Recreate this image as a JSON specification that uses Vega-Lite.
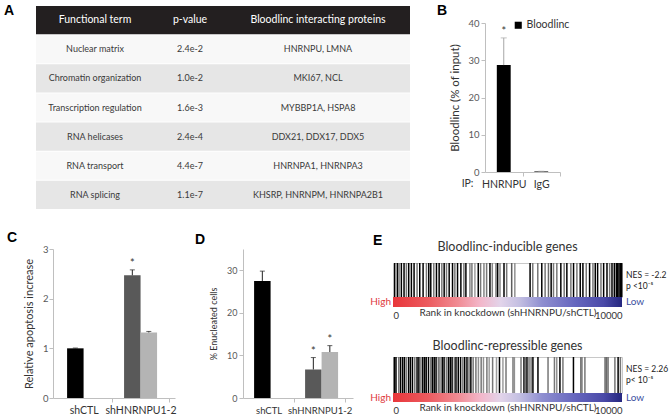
{
  "$schema": "https://vega.github.io/schema/vega-lite/v6.json",
  "background": "white",
  "padding": {"left": 4, "top": 4, "right": 30, "bottom": 0},
  "config": {
    "font": "Lato",
    "view": {"stroke": null},
    "axis": {"grid": false, "labelFont": "Lato", "titleFont": "Lato", "titleFontWeight": "normal", "labelColor": "#595959", "titleColor": "#333333", "domainColor": "#bfbfbf", "tickColor": "#bfbfbf", "tickSize": 4, "labelOverlap": false},
    "title": {"font": "Liberation Sans", "fontSize": 14, "fontWeight": "bold", "color": "#000000", "anchor": "start", "frame": "group"},
    "legend": {"labelFont": "Lato"}
  },
  "datasets": {
    "table": [
      {"row": 0, "term": "Functional term", "p": "p-value", "prot": "Bloodlinc interacting proteins"},
      {"row": 1, "term": "Nuclear matrix", "p": "2.4e-2", "prot": "HNRNPU, LMNA"},
      {"row": 2, "term": "Chromatin organization", "p": "1.0e-2", "prot": "MKI67, NCL"},
      {"row": 3, "term": "Transcription regulation", "p": "1.6e-3", "prot": "MYBBP1A, HSPA8"},
      {"row": 4, "term": "RNA helicases", "p": "2.4e-4", "prot": "DDX21, DDX17, DDX5"},
      {"row": 5, "term": "RNA transport", "p": "4.4e-7", "prot": "HNRNPA1, HNRNPA3"},
      {"row": 6, "term": "RNA splicing", "p": "1.1e-7", "prot": "KHSRP, HNRNPM, HNRNPA2B1"}
    ],
    "inducible": [
      {"rank": 73, "d": 1}, {"rank": 190, "d": 1}, {"rank": 263, "d": 0.5}, {"rank": 365, "d": 1}, {"rank": 482, "d": 1}, {"rank": 584, "d": 0.5}, {"rank": 686, "d": 1}, {"rank": 803, "d": 1}, {"rank": 920, "d": 1}, {"rank": 1051, "d": 0.5}, {"rank": 1168, "d": 1}, {"rank": 1314, "d": 1}, {"rank": 1460, "d": 0.5}, {"rank": 1562, "d": 1}, {"rank": 1650, "d": 1}, {"rank": 1781, "d": 0.5}, {"rank": 1898, "d": 1}, {"rank": 2015, "d": 1}, {"rank": 2132, "d": 0.5}, {"rank": 2234, "d": 1}, {"rank": 2336, "d": 0.5}, {"rank": 2453, "d": 1}, {"rank": 2599, "d": 1}, {"rank": 2701, "d": 0.5}, {"rank": 2818, "d": 1}, {"rank": 2964, "d": 1}, {"rank": 3095, "d": 0.5}, {"rank": 3183, "d": 1}, {"rank": 3358, "d": 0.45}, {"rank": 3446, "d": 0.5}, {"rank": 3577, "d": 0.35}, {"rank": 3723, "d": 1}, {"rank": 3825, "d": 0.5}, {"rank": 3971, "d": 0.45}, {"rank": 4088, "d": 0.5}, {"rank": 4234, "d": 1}, {"rank": 4336, "d": 0.45}, {"rank": 4497, "d": 0.5}, {"rank": 4570, "d": 1}, {"rank": 4672, "d": 0.45}, {"rank": 4847, "d": 1}, {"rank": 4964, "d": 0.5}, {"rank": 5183, "d": 0.6}, {"rank": 5320, "d": 0.4}, {"rank": 5986, "d": 1}, {"rank": 6103, "d": 0.5}, {"rank": 6322, "d": 0.5}, {"rank": 6497, "d": 1}, {"rank": 6643, "d": 0.5}, {"rank": 6789, "d": 0.55}, {"rank": 6906, "d": 1}, {"rank": 7008, "d": 0.5}, {"rank": 7154, "d": 0.5}, {"rank": 7329, "d": 1}, {"rank": 7475, "d": 0.5}, {"rank": 7592, "d": 1}, {"rank": 7767, "d": 0.5}, {"rank": 7884, "d": 1}, {"rank": 8030, "d": 0.5}, {"rank": 8176, "d": 1}, {"rank": 8293, "d": 1}, {"rank": 8439, "d": 0.5}, {"rank": 8585, "d": 1}, {"rank": 8731, "d": 0.5}, {"rank": 8833, "d": 1}, {"rank": 8935, "d": 1}, {"rank": 9081, "d": 0.5}, {"rank": 9198, "d": 1}, {"rank": 9344, "d": 1}, {"rank": 9461, "d": 0.5}, {"rank": 9563, "d": 1}, {"rank": 9665, "d": 1}, {"rank": 9753, "d": 1}, {"rank": 9811, "d": 1}, {"rank": 9870, "d": 1}, {"rank": 9928, "d": 1}, {"rank": 9986, "d": 1}
    ],
    "repressible": [
      {"rank": 60, "d": 1}, {"rank": 130, "d": 1}, {"rank": 250, "d": 0.5}, {"rank": 330, "d": 1}, {"rank": 420, "d": 1}, {"rank": 500, "d": 1}, {"rank": 580, "d": 0.5}, {"rank": 680, "d": 1}, {"rank": 760, "d": 1}, {"rank": 850, "d": 1}, {"rank": 950, "d": 0.5}, {"rank": 1050, "d": 1}, {"rank": 1130, "d": 1}, {"rank": 1220, "d": 0.5}, {"rank": 1300, "d": 1}, {"rank": 1380, "d": 1}, {"rank": 1450, "d": 1}, {"rank": 1550, "d": 1}, {"rank": 1650, "d": 0.5}, {"rank": 1720, "d": 1}, {"rank": 1800, "d": 1}, {"rank": 1880, "d": 1}, {"rank": 1980, "d": 0.5}, {"rank": 2050, "d": 0.5}, {"rank": 2150, "d": 1}, {"rank": 2230, "d": 1}, {"rank": 2330, "d": 0.5}, {"rank": 2420, "d": 1}, {"rank": 2500, "d": 1}, {"rank": 2580, "d": 1}, {"rank": 2680, "d": 0.5}, {"rank": 2750, "d": 1}, {"rank": 2850, "d": 1}, {"rank": 2950, "d": 1}, {"rank": 3050, "d": 0.5}, {"rank": 3130, "d": 1}, {"rank": 3230, "d": 1}, {"rank": 3320, "d": 0.5}, {"rank": 3400, "d": 1}, {"rank": 3500, "d": 0.5}, {"rank": 3620, "d": 0.5}, {"rank": 3730, "d": 0.4}, {"rank": 3850, "d": 0.5}, {"rank": 3950, "d": 0.4}, {"rank": 4100, "d": 0.5}, {"rank": 4200, "d": 0.35}, {"rank": 4350, "d": 0.5}, {"rank": 4520, "d": 0.35}, {"rank": 4650, "d": 1}, {"rank": 4800, "d": 0.35}, {"rank": 4935, "d": 0.5}, {"rank": 5240, "d": 0.5}, {"rank": 5300, "d": 0.4}, {"rank": 5590, "d": 0.5}, {"rank": 5720, "d": 1}, {"rank": 5780, "d": 0.5}, {"rank": 5850, "d": 1}, {"rank": 5940, "d": 0.5}, {"rank": 6030, "d": 0.5}, {"rank": 6110, "d": 1}, {"rank": 6330, "d": 1}, {"rank": 6770, "d": 0.5}, {"rank": 7050, "d": 0.5}, {"rank": 7150, "d": 0.4}, {"rank": 7290, "d": 1}, {"rank": 7420, "d": 0.5}, {"rank": 7880, "d": 1}, {"rank": 8200, "d": 0.5}, {"rank": 8250, "d": 0.5}, {"rank": 8380, "d": 0.5}, {"rank": 9260, "d": 0.55}, {"rank": 9320, "d": 0.55}, {"rank": 9390, "d": 0.55}, {"rank": 9690, "d": 0.5}, {"rank": 9830, "d": 1}, {"rank": 9930, "d": 0.5}
    ],
    "ends": [{"rank": 0, "end": "High"}, {"rank": 10000, "end": "Low"}],
    "none": []
  },
  "spacing": 21,
  "resolve": {"scale": {"color": "independent"}, "legend": {"color": "independent"}},
  "vconcat": [
    {
      "bounds": "flush",
      "spacing": 0,
      "resolve": {"scale": {"color": "independent"}, "legend": {"color": "independent"}},
      "hconcat": [
        {
          "width": 118,
          "height": 203,
          "title": {"text": "A", "dx": -32, "dy": 12, "offset": 0},
          "data": {"name": "table"},
          "layer": [
            {
              "mark": {"type": "rect"},
              "encoding": {
                "y": {"field": "row", "type": "ordinal", "axis": null, "scale": {"paddingInner": 0.035, "paddingOuter": 0}},
                "color": {"condition": [{"test": "datum.row == 0", "value": "#231f20"}, {"test": "datum.row % 2 == 0", "value": "#e6e6e6"}], "value": "#f8f8f8"}
              }
            },
            {
              "mark": {"type": "text", "font": "Lato"},
              "encoding": {
                "y": {"field": "row", "type": "ordinal", "axis": null},
                "text": {"field": "term"},
                "color": {"condition": {"test": "datum.row == 0", "value": "#ffffff"}, "value": "#3a3a3a"},
                "size": {"condition": {"test": "datum.row == 0", "value": 10.5}, "value": 9}
              }
            }
          ]
        },
        {
          "width": 72,
          "height": 203,
          "data": {"name": "table"},
          "layer": [
            {
              "mark": {"type": "rect"},
              "encoding": {
                "y": {"field": "row", "type": "ordinal", "axis": null, "scale": {"paddingInner": 0.035, "paddingOuter": 0}},
                "color": {"condition": [{"test": "datum.row == 0", "value": "#231f20"}, {"test": "datum.row % 2 == 0", "value": "#e6e6e6"}], "value": "#f8f8f8"}
              }
            },
            {
              "mark": {"type": "text", "font": "Lato"},
              "encoding": {
                "y": {"field": "row", "type": "ordinal", "axis": null},
                "text": {"field": "p"},
                "color": {"condition": {"test": "datum.row == 0", "value": "#ffffff"}, "value": "#3a3a3a"},
                "size": {"condition": {"test": "datum.row == 0", "value": 10.5}, "value": 9}
              }
            }
          ]
        },
        {
          "width": 184,
          "height": 203,
          "data": {"name": "table"},
          "layer": [
            {
              "mark": {"type": "rect"},
              "encoding": {
                "y": {"field": "row", "type": "ordinal", "axis": null, "scale": {"paddingInner": 0.035, "paddingOuter": 0}},
                "color": {"condition": [{"test": "datum.row == 0", "value": "#231f20"}, {"test": "datum.row % 2 == 0", "value": "#e6e6e6"}], "value": "#f8f8f8"}
              }
            },
            {
              "mark": {"type": "text", "font": "Lato"},
              "encoding": {
                "y": {"field": "row", "type": "ordinal", "axis": null},
                "text": {"field": "prot"},
                "color": {"condition": {"test": "datum.row == 0", "value": "#ffffff"}, "value": "#3a3a3a"},
                "size": {"condition": {"test": "datum.row == 0", "value": 10.5}, "value": 9}
              }
            }
          ]
        },
        {"width": 75, "height": 1, "title": {"text": "B", "anchor": "end", "align": "left", "dx": -48, "dy": 12, "offset": 0}, "data": {"name": "none"}, "mark": "point"},
        {
          "width": 75,
          "height": 166,
          "data": {"values": [
            {"ip": "HNRNPU", "val": 28.7, "hi": 36, "sig": "*", "series": "Bloodlinc"},
            {"ip": "IgG", "val": 0.15, "hi": 0.2, "sig": "", "series": "Bloodlinc"}
          ]},
          "encoding": {
            "x": {"field": "ip", "type": "nominal", "scale": {"paddingInner": 0, "paddingOuter": 0},
                  "axis": {"title": "IP:", "labelAngle": 0, "labelColor": "#333333", "labelFontSize": 10.5, "labelPadding": 3, "tickOffset": 18.75, "labelOffset": -18.75, "titleX": -12, "titleY": 11, "titleAlign": "right", "titleBaseline": "middle", "titleFontSize": 10.5, "titleColor": "#333333"}}
          },
          "layer": [
            {
              "mark": {"type": "bar", "width": {"band": 0.37}},
              "encoding": {
                "y": {"field": "val", "type": "quantitative", "scale": {"domain": [0, 40], "nice": false, "range": [166, 17]},
                      "axis": {"title": "Bloodlinc (% of input)", "values": [0, 5, 10, 15, 20, 25, 30, 35, 40], "labelFontSize": 9.5, "labelPadding": 2, "titleFontSize": 11.5, "titlePadding": 7}},
                "color": {"field": "series", "type": "nominal", "scale": {"range": ["#000000"]},
                          "legend": {"orient": "none", "legendX": 28, "legendY": 14, "title": null, "symbolType": "square", "symbolSize": 50, "symbolStrokeWidth": 0, "labelFontSize": 10.5, "labelColor": "#333333", "padding": 0, "labelOffset": 3}}
              }
            },
            {
              "mark": {"type": "rule", "color": "#a6a6a6"},
              "encoding": {"y": {"field": "val", "type": "quantitative"}, "y2": {"field": "hi"}}
            },
            {
              "mark": {"type": "tick", "color": "#a6a6a6", "size": 6, "thickness": 1, "orient": "horizontal"},
              "encoding": {"y": {"field": "hi", "type": "quantitative"}}
            },
            {
              "mark": {"type": "text", "dy": -6, "fontSize": 11, "color": "#333333"},
              "encoding": {"y": {"field": "hi", "type": "quantitative"}, "text": {"field": "sig"}}
            }
          ]
        }
      ]
    },
    {
      "bounds": "flush",
      "spacing": 0,
      "resolve": {"scale": {"color": "independent"}, "legend": {"color": "independent"}},
      "hconcat": [
        {"width": 17, "height": 1, "data": {"name": "none"}, "mark": "point"},
        {
          "width": 122,
          "height": 149,
          "title": {"text": "C", "dx": -46, "offset": -1},
          "data": {"values": [
            {"grp": "shCTL", "series": "1", "cond": "shCTL", "val": 1.0, "hi": 1.006, "sig": ""},
            {"grp": "shHNRNPU1-2", "series": "1", "cond": "shHNRNPU1", "val": 2.47, "hi": 2.58, "sig": "*"},
            {"grp": "shHNRNPU1-2", "series": "2", "cond": "shHNRNPU2", "val": 1.32, "hi": 1.34, "sig": ""}
          ]},
          "encoding": {
            "x": {"field": "grp", "type": "nominal", "scale": {"domain": ["shCTL", "shHNRNPU1-2"], "paddingInner": 0.421, "paddingOuter": 0.281, "align": 0.44},
                  "axis": {"title": null, "labelAngle": 0, "labelColor": "#333333", "labelFontSize": 10.5, "labelPadding": 3, "tickOffset": 28.5, "labelOffset": -28.5}},
            "xOffset": {"field": "series", "type": "nominal", "scale": {"domain": ["1", "2"], "paddingInner": 0, "paddingOuter": 0}}
          },
          "layer": [
            {
              "mark": {"type": "bar"},
              "encoding": {
                "y": {"field": "val", "type": "quantitative", "scale": {"domain": [0, 3], "nice": false},
                      "axis": {"title": "Relative apoptosis increase", "values": [0, 0.5, 1, 1.5, 2, 2.5, 3], "format": "~g", "labelFontSize": 9.5, "labelPadding": 1, "titleFontSize": 11, "titlePadding": 8}},
                "color": {"field": "cond", "type": "nominal", "scale": {"domain": ["shCTL", "shHNRNPU1", "shHNRNPU2"], "range": ["#000000", "#595959", "#b4b4b4"]}, "legend": null}
              }
            },
            {
              "mark": {"type": "rule", "color": "#222222"},
              "encoding": {"y": {"field": "val", "type": "quantitative"}, "y2": {"field": "hi"}}
            },
            {
              "mark": {"type": "tick", "color": "#222222", "size": 5, "thickness": 1, "orient": "horizontal"},
              "encoding": {"y": {"field": "hi", "type": "quantitative"}}
            },
            {
              "mark": {"type": "text", "dy": -6, "fontSize": 11, "color": "#333333"},
              "encoding": {"y": {"field": "hi", "type": "quantitative"}, "text": {"field": "sig"}}
            }
          ]
        },
        {"width": 68, "height": 1, "data": {"name": "none"}, "mark": "point"},
        {
          "width": 110,
          "height": 149,
          "title": {"text": "D", "dx": -48, "offset": 2},
          "data": {"values": [
            {"grp": "shCTL", "series": "1", "cond": "shCTL", "val": 27.5, "hi": 29.8, "sig": ""},
            {"grp": "shHNRNPU1-2", "series": "1", "cond": "shHNRNPU1", "val": 6.7, "hi": 9.5, "sig": "*"},
            {"grp": "shHNRNPU1-2", "series": "2", "cond": "shHNRNPU2", "val": 10.8, "hi": 12.3, "sig": "*"}
          ]},
          "encoding": {
            "x": {"field": "grp", "type": "nominal", "scale": {"domain": ["shCTL", "shHNRNPU1-2"], "paddingInner": 0.431, "paddingOuter": 0.294, "align": 0.37},
                  "axis": {"title": null, "labelAngle": 0, "labelColor": "#333333", "labelFontSize": 9.5, "labelPadding": 3, "tickOffset": 25.5, "labelOffset": -25.5}},
            "xOffset": {"field": "series", "type": "nominal", "scale": {"domain": ["1", "2"], "paddingInner": 0, "paddingOuter": 0}}
          },
          "layer": [
            {
              "mark": {"type": "bar"},
              "encoding": {
                "y": {"field": "val", "type": "quantitative", "scale": {"domain": [0, 35], "nice": false},
                      "axis": {"title": "% Enucleated cells", "values": [0, 5, 10, 15, 20, 25, 30, 35], "labelFontSize": 9, "labelPadding": 2, "titleFontSize": 9, "titlePadding": 8}},
                "color": {"field": "cond", "type": "nominal", "scale": {"domain": ["shCTL", "shHNRNPU1", "shHNRNPU2"], "range": ["#000000", "#595959", "#b4b4b4"]}, "legend": null}
              }
            },
            {
              "mark": {"type": "rule", "color": "#222222"},
              "encoding": {"y": {"field": "val", "type": "quantitative"}, "y2": {"field": "hi"}}
            },
            {
              "mark": {"type": "tick", "color": "#222222", "size": 5, "thickness": 1, "orient": "horizontal"},
              "encoding": {"y": {"field": "hi", "type": "quantitative"}}
            },
            {
              "mark": {"type": "text", "dy": -6, "fontSize": 11, "color": "#333333"},
              "encoding": {"y": {"field": "hi", "type": "quantitative"}, "text": {"field": "sig"}}
            }
          ]
        },
        {"width": 40, "height": 1, "data": {"name": "none"}, "mark": "point"},
        {
          "bounds": "flush",
          "spacing": 0,
          "resolve": {"scale": {"color": "independent"}, "legend": {"color": "independent"}},
          "vconcat": [
            {"width": 229, "height": 14, "title": {"text": "E", "dx": -20, "offset": 1}, "data": {"name": "none"}, "mark": "point"},
            {
              "width": 229,
              "height": 34,
              "view": {"stroke": "#c8c8c8"},
              "title": {"text": "Bloodlinc-inducible genes", "anchor": "middle", "font": "Lato", "fontSize": 12.5, "fontWeight": "normal", "color": "#333333", "offset": 9},
              "layer": [
                {
                  "data": {"name": "inducible"},
                  "mark": {"type": "rule", "strokeWidth": 1.5},
                  "encoding": {
                    "x": {"field": "rank", "type": "quantitative", "scale": {"domain": [0, 10000], "nice": false, "zero": false}, "axis": null},
                    "color": {"field": "d", "type": "quantitative", "scale": {"domain": [0, 1], "range": ["#ffffff", "#000000"]}, "legend": null}
                  }
                },
                {
                  "data": {"values": [{"rank": 10000, "label": ["NES = -2.2", "p <10⁻⁵"]}]},
                  "mark": {"type": "text", "align": "left", "dx": 4, "dy": -5, "fontSize": 8.5, "lineHeight": 10.5, "color": "#222222"},
                  "encoding": {"x": {"field": "rank", "type": "quantitative"}, "text": {"field": "label"}}
                }
              ]
            },
            {
              "width": 229,
              "height": 10,
              "data": {"name": "ends"},
              "layer": [
                {
                  "transform": [{"aggregate": [{"op": "min", "field": "rank", "as": "r0"}, {"op": "max", "field": "rank", "as": "r1"}]}],
                  "mark": {"type": "rect", "fill": {"gradient": "linear", "x1": 0, "x2": 1, "y1": 0, "y2": 0, "stops": [{"offset": 0, "color": "#e8363b"}, {"offset": 0.15, "color": "#ec5a5e"}, {"offset": 0.28, "color": "#f08a92"}, {"offset": 0.38, "color": "#f3b6c9"}, {"offset": 0.47, "color": "#e2d4ea"}, {"offset": 0.55, "color": "#c4c0e2"}, {"offset": 0.65, "color": "#8f8fd0"}, {"offset": 0.8, "color": "#6565bd"}, {"offset": 0.92, "color": "#4a4aa8"}, {"offset": 1, "color": "#25277f"}]}},
                  "encoding": {
                    "x": {"field": "r0", "type": "quantitative", "scale": {"domain": [0, 10000], "nice": false, "zero": false},
                          "axis": {"title": "Rank in knockdown (shHNRNPU/shCTL)", "values": [0, 10000], "format": "d", "labelFlush": true, "domain": false, "ticks": false, "labelPadding": 3, "labelFontSize": 9.5, "labelColor": "#333333", "titleFontSize": 10, "titleColor": "#333333", "titlePadding": -12}},
                    "x2": {"field": "r1"}
                  }
                },
                {
                  "transform": [{"filter": "datum.rank == 0"}],
                  "mark": {"type": "text", "align": "right", "dx": -2, "fontSize": 10, "color": "#e03a3e"},
                  "encoding": {"x": {"field": "rank", "type": "quantitative"}, "text": {"field": "end"}}
                },
                {
                  "transform": [{"filter": "datum.rank == 10000"}],
                  "mark": {"type": "text", "align": "left", "dx": 4, "fontSize": 10, "color": "#3b4ea0"},
                  "encoding": {"x": {"field": "rank", "type": "quantitative"}, "text": {"field": "end"}}
                }
              ]
            },
            {"width": 229, "height": 50, "data": {"name": "none"}, "mark": "point"},
            {
              "width": 229,
              "height": 36,
              "view": {"stroke": "#c8c8c8"},
              "title": {"text": "Bloodlinc-repressible genes", "anchor": "middle", "font": "Lato", "fontSize": 12.5, "fontWeight": "normal", "color": "#333333", "offset": 4},
              "layer": [
                {
                  "data": {"name": "repressible"},
                  "mark": {"type": "rule", "strokeWidth": 1.5},
                  "encoding": {
                    "x": {"field": "rank", "type": "quantitative", "scale": {"domain": [0, 10000], "nice": false, "zero": false}, "axis": null},
                    "color": {"field": "d", "type": "quantitative", "scale": {"domain": [0, 1], "range": ["#ffffff", "#000000"]}, "legend": null}
                  }
                },
                {
                  "data": {"values": [{"rank": 10000, "label": ["NES = 2.26", "p< 10⁻⁵"]}]},
                  "mark": {"type": "text", "align": "left", "dx": 4, "dy": -6, "fontSize": 8.5, "lineHeight": 10.5, "color": "#222222"},
                  "encoding": {"x": {"field": "rank", "type": "quantitative"}, "text": {"field": "label"}}
                }
              ]
            },
            {
              "width": 229,
              "height": 9,
              "data": {"name": "ends"},
              "layer": [
                {
                  "transform": [{"aggregate": [{"op": "min", "field": "rank", "as": "r0"}, {"op": "max", "field": "rank", "as": "r1"}]}],
                  "mark": {"type": "rect", "fill": {"gradient": "linear", "x1": 0, "x2": 1, "y1": 0, "y2": 0, "stops": [{"offset": 0, "color": "#e8363b"}, {"offset": 0.15, "color": "#ec5a5e"}, {"offset": 0.28, "color": "#f08a92"}, {"offset": 0.38, "color": "#f3b6c9"}, {"offset": 0.47, "color": "#e2d4ea"}, {"offset": 0.55, "color": "#c4c0e2"}, {"offset": 0.65, "color": "#8f8fd0"}, {"offset": 0.8, "color": "#6565bd"}, {"offset": 0.92, "color": "#4a4aa8"}, {"offset": 1, "color": "#25277f"}]}},
                  "encoding": {
                    "x": {"field": "r0", "type": "quantitative", "scale": {"domain": [0, 10000], "nice": false, "zero": false},
                          "axis": {"title": "Rank in knockdown (shHNRNPU/shCTL)", "values": [0, 10000], "format": "d", "labelFlush": true, "domain": false, "ticks": false, "labelPadding": 3, "labelFontSize": 9.5, "labelColor": "#333333", "titleFontSize": 10, "titleColor": "#333333", "titlePadding": -12}},
                    "x2": {"field": "r1"}
                  }
                },
                {
                  "transform": [{"filter": "datum.rank == 0"}],
                  "mark": {"type": "text", "align": "right", "dx": -2, "fontSize": 10, "color": "#e03a3e"},
                  "encoding": {"x": {"field": "rank", "type": "quantitative"}, "text": {"field": "end"}}
                },
                {
                  "transform": [{"filter": "datum.rank == 10000"}],
                  "mark": {"type": "text", "align": "left", "dx": 4, "fontSize": 10, "color": "#3b4ea0"},
                  "encoding": {"x": {"field": "rank", "type": "quantitative"}, "text": {"field": "end"}}
                }
              ]
            }
          ]
        }
      ]
    }
  ]
}
